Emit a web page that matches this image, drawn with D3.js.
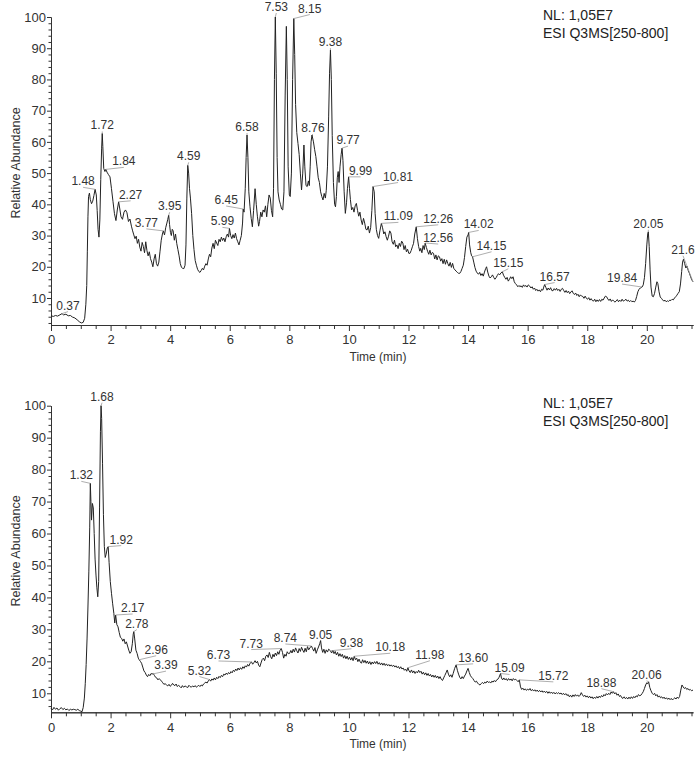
<!DOCTYPE html>
<html>
<head>
<meta charset="utf-8">
<script src="https://cdn.jsdelivr.net/npm/d3@7"></script>
<style>
  body { margin: 0; background: #fff; }
  svg { display: block; font-family: "Liberation Sans", Arial, sans-serif; }
  .axis path, .axis line { stroke: #333; }
  .axis text { fill: #333; font-size: 13px; font-family: "Liberation Sans", Arial, sans-serif; }
</style>
</head>
<body>
<script>
// chromatogram traces: [time (min), relative abundance]
var topTrace = [
  [0.00,4.3],[0.08,4.1],[0.15,4.4],[0.22,4.2],[0.30,4.6],[0.37,5.0],[0.42,4.6],[0.50,4.8],[0.58,4.3],[0.65,4.4],
  [0.72,3.9],[0.80,3.6],[0.88,3.0],[0.95,2.4],[1.02,2.0],[1.08,2.2],[1.13,3.5],[1.17,8.0],[1.20,14.0],[1.22,25.0],
  [1.24,36.0],[1.26,42.5],[1.29,43.6],[1.32,41.5],[1.36,40.2],[1.40,41.0],[1.44,42.8],[1.48,44.8],[1.52,43.0],[1.55,38.0],
  [1.58,32.0],[1.61,29.5],[1.64,35.0],[1.67,48.0],[1.70,58.0],[1.72,62.7],[1.74,58.5],[1.77,51.5],[1.81,50.5],[1.84,51.2],
  [1.88,50.3],[1.93,49.5],[1.98,48.8],[2.03,45.0],[2.08,41.0],[2.13,37.0],[2.18,34.8],[2.23,38.5],[2.27,40.8],[2.31,38.5],
  [2.35,36.0],[2.40,35.2],[2.45,37.5],[2.50,38.2],[2.55,37.3],[2.60,34.5],[2.65,35.3],[2.70,33.0],[2.74,31.5],[2.78,30.2],
  [2.82,29.0],[2.86,29.8],[2.90,27.5],[2.94,28.8],[2.98,26.3],[3.02,25.0],[3.06,27.8],[3.10,26.5],[3.14,24.5],[3.18,28.0],
  [3.22,25.2],[3.26,23.5],[3.30,24.8],[3.34,22.6],[3.38,21.5],[3.42,20.0],[3.46,22.5],[3.50,24.0],[3.54,21.0],[3.58,20.2],
  [3.62,21.5],[3.66,25.0],[3.70,28.5],[3.74,30.5],[3.77,31.5],[3.81,30.2],[3.85,32.5],[3.89,34.0],[3.92,35.2],[3.95,36.5],
  [3.98,33.5],[4.01,31.0],[4.04,30.0],[4.07,32.0],[4.10,31.5],[4.14,28.5],[4.18,30.5],[4.22,27.5],[4.26,25.5],[4.30,23.5],
  [4.34,21.0],[4.38,19.8],[4.42,19.5],[4.46,19.4],[4.50,20.5],[4.53,27.0],[4.56,42.0],[4.59,52.5],[4.62,50.0],[4.65,45.0],
  [4.68,42.0],[4.72,37.0],[4.76,30.0],[4.80,25.5],[4.84,22.0],[4.88,20.5],[4.92,19.2],[4.96,18.5],[5.00,18.2],[5.04,18.8],
  [5.08,19.5],[5.12,19.0],[5.16,20.2],[5.20,21.0],[5.24,20.5],[5.28,22.5],[5.32,24.0],[5.36,23.2],[5.40,26.0],[5.44,27.5],
  [5.48,25.8],[5.52,28.5],[5.56,27.6],[5.60,26.8],[5.64,28.8],[5.68,28.0],[5.72,29.5],[5.76,28.4],[5.80,29.2],[5.84,28.0],
  [5.88,29.6],[5.92,30.5],[5.96,29.5],[5.99,32.3],[6.03,30.0],[6.07,29.0],[6.11,30.3],[6.15,29.2],[6.19,30.8],[6.23,29.0],
  [6.27,28.0],[6.31,27.0],[6.35,28.5],[6.39,30.0],[6.43,34.0],[6.45,38.5],[6.48,37.5],[6.52,45.0],[6.55,55.0],[6.58,62.2],
  [6.61,55.0],[6.64,44.0],[6.68,39.2],[6.72,35.5],[6.76,32.8],[6.80,38.0],[6.85,45.0],[6.89,40.0],[6.93,36.0],[6.97,33.0],
  [7.00,34.5],[7.04,37.5],[7.08,36.0],[7.12,38.2],[7.16,37.5],[7.20,39.5],[7.24,36.0],[7.28,40.0],[7.32,43.0],[7.36,42.0],
  [7.40,38.0],[7.44,36.0],[7.47,45.0],[7.50,80.0],[7.53,100],[7.56,82.0],[7.59,55.0],[7.62,44.0],[7.66,41.4],[7.70,40.0],
  [7.74,38.5],[7.78,38.2],[7.82,44.0],[7.86,75.0],[7.90,97.0],[7.93,80.0],[7.96,52.0],[8.00,43.0],[8.03,42.5],[8.07,50.0],
  [8.11,80.0],[8.15,99.5],[8.18,88.0],[8.21,72.0],[8.25,63.0],[8.29,59.5],[8.33,56.0],[8.37,50.0],[8.41,44.6],[8.45,50.0],
  [8.49,59.0],[8.52,52.0],[8.56,46.0],[8.60,45.7],[8.64,47.5],[8.67,46.0],[8.70,52.0],[8.73,60.0],[8.76,62.2],[8.81,60.0],
  [8.85,57.5],[8.89,55.3],[8.93,52.0],[8.97,48.5],[9.01,47.0],[9.05,44.0],[9.09,42.5],[9.13,41.4],[9.17,43.5],[9.21,42.0],
  [9.24,44.5],[9.28,52.0],[9.32,68.0],[9.35,82.0],[9.38,89.4],[9.41,80.0],[9.44,62.0],[9.48,47.0],[9.52,40.0],[9.55,39.2],
  [9.58,42.5],[9.61,48.5],[9.64,50.5],[9.67,47.0],[9.70,52.0],[9.74,56.0],[9.77,58.0],[9.80,54.0],[9.84,44.0],[9.88,37.1],
  [9.92,40.5],[9.95,45.0],[9.99,48.8],[10.02,45.0],[10.05,41.5],[10.09,38.2],[10.13,39.0],[10.17,37.5],[10.21,39.5],[10.25,40.3],
  [10.29,38.0],[10.33,36.2],[10.37,37.5],[10.41,35.0],[10.45,33.5],[10.49,35.5],[10.53,34.0],[10.57,32.0],[10.61,31.8],[10.65,33.0],
  [10.69,30.8],[10.73,32.5],[10.77,38.0],[10.81,45.7],[10.85,44.0],[10.88,37.0],[10.92,32.0],[10.96,30.0],[11.00,29.1],[11.04,31.5],
  [11.09,33.9],[11.13,32.5],[11.17,30.5],[11.21,31.2],[11.25,29.6],[11.29,28.5],[11.33,29.8],[11.37,31.5],[11.41,30.8],[11.45,28.0],
  [11.49,27.2],[11.53,28.5],[11.57,26.4],[11.61,27.0],[11.65,25.8],[11.69,27.5],[11.73,26.5],[11.77,28.2],[11.81,27.6],[11.85,25.5],
  [11.89,26.8],[11.93,24.8],[11.97,25.6],[12.01,24.3],[12.05,24.3],[12.09,25.2],[12.13,26.4],[12.17,27.5],[12.21,30.5],[12.26,32.8],
  [12.30,29.0],[12.34,26.5],[12.38,25.0],[12.41,25.9],[12.45,24.5],[12.49,26.8],[12.53,25.5],[12.56,27.6],[12.60,26.2],[12.64,25.0],
  [12.68,24.0],[12.72,25.3],[12.76,23.8],[12.80,24.6],[12.84,24.3],[12.88,22.5],[12.92,23.8],[12.96,22.2],[13.00,23.5],[13.04,23.2],
  [13.08,21.8],[13.12,22.6],[13.16,21.0],[13.20,22.4],[13.24,20.8],[13.28,22.2],[13.32,21.0],[13.36,20.2],[13.40,21.4],[13.44,19.8],
  [13.48,21.1],[13.52,19.5],[13.56,19.0],[13.60,18.6],[13.64,18.2],[13.68,17.9],[13.72,17.9],[13.76,18.5],[13.80,19.5],[13.84,20.5],
  [13.88,23.0],[13.92,26.5],[13.96,29.5],[14.00,30.2],[14.02,31.0],[14.05,27.0],[14.09,24.5],[14.12,23.5],[14.15,23.2],[14.19,21.5],
  [14.23,19.8],[14.27,18.6],[14.31,18.0],[14.35,17.6],[14.39,18.2],[14.43,17.2],[14.47,17.8],[14.51,17.0],[14.55,18.3],[14.59,19.4],
  [14.62,20.0],[14.66,18.3],[14.70,17.0],[14.74,16.4],[14.78,16.8],[14.82,17.4],[14.86,16.6],[14.90,16.0],[14.94,16.5],[14.98,17.2],
  [15.02,17.8],[15.06,17.4],[15.10,18.0],[15.15,18.4],[15.19,17.3],[15.23,16.6],[15.27,16.0],[15.31,16.6],[15.35,15.4],[15.39,16.0],
  [15.43,16.8],[15.47,16.2],[15.51,16.8],[15.55,15.2],[15.59,14.6],[15.63,14.2],[15.67,13.6],[15.71,14.0],[15.74,13.6],[15.78,13.9],
  [15.82,13.4],[15.86,14.2],[15.90,13.7],[15.94,14.0],[15.98,13.5],[16.02,14.2],[16.07,13.8],[16.11,13.2],[16.15,13.6],[16.19,12.8],
  [16.23,13.2],[16.27,12.4],[16.31,12.8],[16.35,12.2],[16.39,12.6],[16.43,12.0],[16.47,12.8],[16.51,12.5],[16.54,13.5],[16.57,14.3],
  [16.61,13.4],[16.65,12.5],[16.69,13.2],[16.73,12.6],[16.77,13.3],[16.81,12.4],[16.85,12.3],[16.89,13.0],[16.93,12.5],[16.97,13.1],
  [17.01,12.4],[17.05,12.8],[17.09,12.1],[17.13,12.8],[17.17,13.1],[17.21,12.4],[17.25,11.8],[17.29,12.4],[17.33,11.7],[17.37,12.2],
  [17.41,11.4],[17.45,11.9],[17.49,12.3],[17.53,11.5],[17.57,11.1],[17.61,11.6],[17.65,10.8],[17.69,11.2],[17.73,10.4],[17.77,11.0],
  [17.81,10.6],[17.85,10.5],[17.89,9.9],[17.93,10.6],[17.97,9.9],[18.01,9.6],[18.05,10.1],[18.09,9.3],[18.13,9.8],[18.17,9.2],
  [18.21,9.0],[18.25,9.6],[18.29,8.8],[18.33,9.4],[18.37,8.9],[18.41,9.5],[18.45,8.9],[18.49,9.6],[18.53,9.3],[18.57,10.0],
  [18.61,10.6],[18.65,10.4],[18.69,9.7],[18.73,9.2],[18.77,9.7],[18.81,8.9],[18.85,9.4],[18.89,9.0],[18.93,8.7],[18.97,9.0],
  [19.01,9.5],[19.05,8.8],[19.09,9.3],[19.13,8.9],[19.17,9.6],[19.21,9.0],[19.25,9.2],[19.30,9.6],[19.34,9.0],[19.38,9.3],
  [19.42,8.8],[19.46,9.2],[19.50,8.8],[19.54,9.0],[19.58,8.7],[19.62,9.2],[19.66,10.5],[19.70,12.0],[19.74,12.8],[19.78,13.2],
  [19.84,13.5],[19.88,14.2],[19.92,16.5],[19.96,21.0],[20.00,27.0],[20.03,30.5],[20.05,31.2],[20.08,26.5],[20.11,19.0],[20.14,13.5],
  [20.18,10.6],[20.22,10.4],[20.26,11.5],[20.30,13.5],[20.34,15.2],[20.37,14.6],[20.41,12.0],[20.45,10.3],[20.49,9.9],[20.53,9.4],
  [20.57,9.0],[20.61,9.3],[20.65,8.8],[20.69,9.1],[20.73,8.9],[20.77,9.3],[20.81,9.2],[20.85,9.6],[20.89,9.4],[20.93,10.0],
  [20.97,10.4],[21.01,10.9],[21.05,11.5],[21.09,12.0],[21.13,14.5],[21.17,18.5],[21.20,21.5],[21.23,22.4],[21.27,21.0],[21.31,19.6],
  [21.35,20.2],[21.39,18.8],[21.43,17.9],[21.47,16.8],[21.51,15.8],[21.55,15.2]
];

var bottomTrace = [
  [0.00,5.3],[0.05,4.8],[0.10,5.6],[0.15,5.0],[0.20,5.4],[0.25,4.7],[0.30,5.2],[0.35,5.5],[0.40,4.9],[0.45,5.3],
  [0.50,4.8],[0.55,5.1],[0.60,4.6],[0.65,5.0],[0.70,4.8],[0.75,5.0],[0.80,4.9],[0.85,4.7],[0.90,5.0],[0.95,4.6],
  [1.00,4.4],[1.04,4.2],[1.08,5.5],[1.12,8.5],[1.15,13.0],[1.18,19.0],[1.21,27.0],[1.24,37.0],[1.27,48.0],[1.30,62.0],
  [1.32,75.7],[1.34,70.0],[1.36,64.2],[1.39,69.4],[1.42,68.0],[1.45,60.0],[1.48,52.0],[1.51,47.0],[1.54,43.0],[1.57,40.2],
  [1.60,45.0],[1.63,68.0],[1.66,92.0],[1.68,100],[1.70,96.0],[1.73,82.0],[1.76,66.0],[1.79,56.0],[1.82,52.5],[1.85,53.5],
  [1.89,55.5],[1.92,55.9],[1.95,51.0],[1.99,45.0],[2.03,41.3],[2.07,38.0],[2.11,35.0],[2.14,32.0],[2.17,34.5],[2.21,31.5],
  [2.25,30.8],[2.29,29.0],[2.33,27.5],[2.37,27.2],[2.41,26.3],[2.45,27.0],[2.49,25.5],[2.53,26.1],[2.57,24.8],[2.61,23.5],
  [2.65,22.5],[2.69,23.0],[2.73,25.5],[2.76,28.5],[2.78,29.3],[2.81,27.0],[2.85,23.5],[2.89,22.5],[2.93,21.0],[2.96,20.5],
  [3.00,20.0],[3.04,19.4],[3.08,18.2],[3.12,17.0],[3.16,16.5],[3.20,15.7],[3.24,15.2],[3.28,15.9],[3.32,15.5],[3.36,16.2],
  [3.39,16.0],[3.43,16.2],[3.47,15.6],[3.51,15.0],[3.55,14.8],[3.59,14.2],[3.63,14.6],[3.67,14.2],[3.71,13.8],[3.75,13.3],
  [3.79,12.8],[3.83,13.0],[3.88,12.6],[3.92,12.3],[3.96,12.8],[4.00,12.2],[4.04,12.5],[4.08,13.1],[4.12,12.6],[4.16,12.4],
  [4.20,12.9],[4.24,12.1],[4.28,12.5],[4.33,12.1],[4.37,11.7],[4.41,12.4],[4.45,11.9],[4.50,12.3],[4.55,12.0],[4.59,11.8],
  [4.63,12.5],[4.67,12.1],[4.71,11.9],[4.75,12.3],[4.80,12.0],[4.84,12.4],[4.88,11.9],[4.92,12.2],[4.96,12.5],[5.00,12.1],
  [5.04,12.6],[5.08,12.3],[5.12,12.9],[5.16,13.2],[5.20,13.5],[5.24,13.2],[5.28,13.9],[5.32,14.3],[5.36,13.8],[5.40,14.5],
  [5.44,14.1],[5.48,14.8],[5.52,14.2],[5.56,15.0],[5.60,14.6],[5.64,15.3],[5.68,14.9],[5.72,15.6],[5.76,15.2],[5.80,16.0],
  [5.84,15.7],[5.88,16.3],[5.92,15.9],[5.96,16.5],[6.00,16.1],[6.04,16.8],[6.08,16.4],[6.12,17.2],[6.16,16.8],[6.20,17.6],
  [6.24,17.1],[6.28,17.9],[6.32,17.3],[6.36,18.0],[6.40,17.5],[6.44,18.3],[6.48,17.8],[6.52,18.6],[6.56,18.2],[6.60,19.0],
  [6.64,18.5],[6.68,19.4],[6.73,19.8],[6.77,19.1],[6.81,19.6],[6.85,20.2],[6.89,19.5],[6.93,20.0],[6.97,18.8],[7.01,18.3],
  [7.05,19.5],[7.09,20.6],[7.13,21.0],[7.17,20.2],[7.21,21.6],[7.25,22.0],[7.29,21.2],[7.33,22.8],[7.37,21.5],[7.41,20.8],
  [7.45,22.2],[7.49,21.4],[7.53,22.6],[7.57,21.8],[7.61,23.0],[7.65,22.2],[7.69,23.5],[7.73,24.0],[7.77,22.8],[7.81,21.0],
  [7.85,22.2],[7.89,21.6],[7.93,23.0],[7.97,22.4],[8.01,22.5],[8.05,23.4],[8.09,22.6],[8.13,23.8],[8.17,22.9],[8.21,24.2],
  [8.25,23.3],[8.29,22.6],[8.33,24.0],[8.37,23.1],[8.41,24.4],[8.45,23.5],[8.49,22.8],[8.53,24.1],[8.57,23.0],[8.61,24.6],
  [8.65,23.6],[8.69,24.2],[8.74,24.8],[8.78,24.0],[8.82,23.2],[8.86,24.3],[8.90,22.5],[8.94,23.6],[8.98,24.5],[9.02,25.5],
  [9.05,26.5],[9.08,24.2],[9.12,22.8],[9.16,23.8],[9.20,22.5],[9.24,23.6],[9.28,22.9],[9.32,23.8],[9.38,23.3],[9.42,22.6],
  [9.46,23.5],[9.50,22.4],[9.54,23.1],[9.58,22.0],[9.62,22.8],[9.66,21.6],[9.70,22.4],[9.74,21.5],[9.78,22.2],[9.82,21.0],
  [9.86,21.8],[9.90,20.8],[9.94,21.6],[9.98,20.6],[10.02,21.3],[10.06,20.4],[10.10,21.2],[10.14,20.2],[10.18,21.6],[10.22,20.5],
  [10.26,21.0],[10.30,19.9],[10.34,20.7],[10.38,19.8],[10.42,19.4],[10.46,20.5],[10.50,19.6],[10.54,20.3],[10.58,19.4],[10.62,20.1],
  [10.66,19.2],[10.70,19.9],[10.74,19.0],[10.78,19.8],[10.82,19.2],[10.86,19.9],[10.90,19.3],[10.94,20.0],[10.98,19.1],[11.02,19.6],
  [11.06,18.9],[11.10,19.5],[11.14,18.8],[11.18,19.4],[11.22,18.7],[11.26,19.2],[11.30,18.6],[11.34,19.0],[11.38,18.5],[11.42,18.9],
  [11.46,18.4],[11.50,18.8],[11.54,18.2],[11.58,18.6],[11.62,18.0],[11.66,18.4],[11.70,17.7],[11.74,18.3],[11.78,17.6],[11.82,17.9],
  [11.86,17.2],[11.90,17.6],[11.94,16.9],[11.98,18.0],[12.02,17.0],[12.06,16.5],[12.10,17.3],[12.14,16.4],[12.18,17.0],[12.22,16.2],
  [12.26,16.8],[12.30,16.4],[12.34,17.2],[12.38,16.5],[12.42,16.9],[12.46,16.0],[12.50,16.6],[12.54,15.8],[12.58,16.4],[12.62,15.6],
  [12.66,16.2],[12.70,15.4],[12.74,15.9],[12.78,15.1],[12.82,15.7],[12.86,15.0],[12.90,15.6],[12.94,14.8],[12.98,15.4],[13.02,14.6],
  [13.06,15.2],[13.10,14.4],[13.14,14.0],[13.18,14.8],[13.22,15.6],[13.26,16.4],[13.30,17.3],[13.34,16.0],[13.38,15.2],[13.42,15.8],
  [13.46,15.0],[13.50,16.2],[13.55,17.8],[13.60,18.9],[13.64,17.2],[13.68,16.0],[13.72,15.0],[13.76,14.5],[13.80,15.2],[13.84,14.6],
  [13.88,15.4],[13.92,16.0],[13.96,17.0],[14.00,17.8],[14.04,16.5],[14.08,15.5],[14.12,15.0],[14.16,14.6],[14.20,14.0],[14.24,13.5],
  [14.28,13.8],[14.32,13.2],[14.36,12.8],[14.40,12.6],[14.44,13.0],[14.48,13.4],[14.52,13.0],[14.56,13.5],[14.60,13.2],[14.64,13.8],
  [14.68,13.4],[14.72,13.6],[14.76,13.2],[14.80,13.8],[14.84,13.5],[14.88,14.0],[14.92,13.6],[14.96,14.2],[15.00,14.4],[15.04,15.0],
  [15.09,16.2],[15.12,14.8],[15.16,14.2],[15.20,14.8],[15.24,14.2],[15.28,14.6],[15.32,14.0],[15.36,14.6],[15.40,14.1],[15.44,14.5],
  [15.48,13.9],[15.52,14.6],[15.56,14.2],[15.60,14.4],[15.64,14.0],[15.68,13.6],[15.72,14.2],[15.76,12.0],[15.80,11.2],[15.84,11.6],
  [15.88,11.0],[15.92,11.4],[15.96,10.9],[16.00,11.3],[16.04,11.0],[16.08,11.5],[16.12,10.8],[16.16,11.2],[16.20,10.7],[16.24,11.1],
  [16.28,10.6],[16.32,11.0],[16.36,10.5],[16.40,10.9],[16.44,10.4],[16.48,10.8],[16.52,10.3],[16.56,10.7],[16.60,10.2],[16.64,10.6],
  [16.68,10.0],[16.72,10.5],[16.76,10.0],[16.80,10.4],[16.84,9.9],[16.88,10.3],[16.92,9.8],[16.96,10.2],[17.00,9.9],[17.04,10.2],
  [17.08,9.8],[17.12,10.1],[17.16,9.6],[17.20,10.0],[17.24,9.5],[17.28,9.9],[17.32,9.3],[17.36,9.6],[17.40,8.9],[17.44,9.4],
  [17.48,8.8],[17.52,9.5],[17.56,9.0],[17.60,9.6],[17.64,9.1],[17.68,9.5],[17.72,9.0],[17.76,9.4],[17.80,10.2],[17.84,9.5],
  [17.88,9.0],[17.92,9.4],[17.96,8.8],[18.00,9.2],[18.04,8.6],[18.08,9.1],[18.12,8.5],[18.16,8.9],[18.20,8.3],[18.24,8.8],
  [18.28,8.4],[18.32,9.0],[18.36,8.5],[18.40,9.1],[18.44,8.7],[18.48,9.3],[18.52,8.9],[18.56,9.6],[18.60,9.2],[18.64,9.9],
  [18.68,9.5],[18.72,10.0],[18.76,9.6],[18.80,10.4],[18.84,10.0],[18.88,10.5],[18.92,9.8],[18.96,10.2],[19.00,9.4],[19.04,9.8],
  [19.08,9.0],[19.12,9.3],[19.16,8.6],[19.20,8.4],[19.24,8.9],[19.28,8.3],[19.32,8.7],[19.36,8.2],[19.40,8.8],[19.44,8.3],
  [19.48,8.9],[19.52,8.4],[19.56,9.0],[19.60,8.6],[19.64,9.2],[19.68,8.9],[19.72,9.6],[19.76,9.2],[19.80,9.4],[19.84,9.9],
  [19.88,10.5],[19.92,11.5],[19.96,12.6],[20.00,13.3],[20.03,13.0],[20.06,13.6],[20.10,11.8],[20.14,10.8],[20.18,10.0],[20.22,9.6],
  [20.26,10.0],[20.30,9.2],[20.34,9.6],[20.38,8.8],[20.42,9.2],[20.46,8.6],[20.50,8.9],[20.54,8.4],[20.58,8.8],[20.62,8.2],
  [20.66,8.6],[20.70,8.1],[20.74,8.5],[20.78,8.0],[20.82,8.4],[20.86,7.9],[20.90,8.3],[20.94,8.6],[20.98,8.2],[21.02,8.8],
  [21.06,8.4],[21.10,9.0],[21.14,11.0],[21.18,12.6],[21.22,12.0],[21.26,11.5],[21.30,11.8],[21.34,11.2],[21.38,11.5],[21.42,11.0],
  [21.46,11.2],[21.50,10.8],[21.55,11.0]
];

// peak labels (retention times)
var topPeaks = ["0.37","1.48","1.72","1.84","2.27","3.77","3.95","4.59","5.99","6.45","6.58","7.53","8.15","8.76",
  "9.38","9.77","9.99","10.81","11.09","12.26","12.56","14.02","14.15","15.15","16.57","19.84","20.05","21.6"];
var bottomPeaks = ["1.32","1.68","1.92","2.17","2.78","2.96","3.39","5.32","6.73","7.73","8.74","9.05","9.38","10.18",
  "11.98","13.60","15.09","15.72","18.88","20.06"];

// where each label text sits, relative to its peak (px)
var topLabelShift = [[6,-8],[-12,-8],[0,-8],[18,-8],[12,-7],[-17,-8],[1,-9],[1,-9],[-7,-7],[-17,-9],[0,-8],[1,-10],[16,-10],[1,-7],
  [0,-8],[6,-8],[12,-6],[25,-10],[17,-7],[22,-8],[13,-5],[10,-8],[19,-11],[6,-9],[10,-8],[-20,-9],[0,-8],[-10,-32]];
var bottomLabelShift = [[-9,-8],[1,-9],[13,-7],[17,-7],[3,-8],[17,-10],[14,-9],[-10,-9],[-33,-7],[-30,-5],[-26,-8],[0,-6],[21,-8],[36,-9],
  [22,-13],[17,-7],[9,-5],[34,-4],[-12,-9],[-2,-7]];

var timeTicks = [0,2,4,6,8,10,12,14,16,18,20];
var abundanceTicks = [10,20,30,40,50,60,70,80,90,100];
var scanInfo = ["NL: 1,05E7", "ESI Q3MS[250-800]"];

var W = 695, H = 757;
var svg = d3.select("body").append("svg").attr("width", W).attr("height", H);
svg.append("rect").attr("width", W).attr("height", H).attr("fill", "#fff");

function drawPanel(trace, peaks, shifts, box) {
  var g = svg.append("g");

  var x = d3.scaleLinear().domain([0, 21.55]).range([box.left, box.right]);
  var y = d3.scaleLinear().domain([box.yMin, 100]).range([box.bottom, box.top]);

  // minor ticks first, then major axes on top
  var xMinor = d3.range(0, 21.55, 0.5).filter(function(v) { return v % 2 !== 0; });
  var yMinor = d3.range(2, 100, 2).filter(function(v) { return v % 10 !== 0 && v >= box.yMin; });

  g.append("g").attr("class", "axis")
    .attr("transform", "translate(0," + box.bottom + ")")
    .call(d3.axisBottom(x).tickValues(xMinor).tickSize(4).tickSizeOuter(0).tickFormat(""));
  g.append("g").attr("class", "axis")
    .attr("transform", "translate(0," + box.bottom + ")")
    .call(d3.axisBottom(x).tickValues(timeTicks).tickSize(6).tickSizeOuter(0).tickPadding(4).tickFormat(d3.format("d")));

  g.append("g").attr("class", "axis")
    .attr("transform", "translate(" + box.left + ",0)")
    .call(d3.axisLeft(y).tickValues(yMinor).tickSize(2.5).tickSizeOuter(0).tickFormat(""));
  g.append("g").attr("class", "axis")
    .attr("transform", "translate(" + box.left + ",0)")
    .call(d3.axisLeft(y).tickValues(abundanceTicks).tickSize(4).tickSizeOuter(0).tickPadding(1).tickFormat(d3.format("d")));

  // axis titles
  g.append("text")
    .attr("x", (box.left + box.right) / 2 + 6).attr("y", box.bottom + 36)
    .attr("text-anchor", "middle").attr("fill", "#333").style("font-size", "12px")
    .text("Time (min)");
  g.append("text")
    .attr("transform", "translate(20," + ((box.top + box.bottom) / 2 - 8) + ") rotate(-90)")
    .attr("text-anchor", "middle").attr("fill", "#333").style("font-size", "12.5px")
    .text("Relative Abundance");

  // the trace
  var line = d3.line().x(function(d) { return x(d[0]); }).y(function(d) { return y(d[1]); });
  g.append("path").datum(trace)
    .attr("d", line)
    .attr("fill", "none").attr("stroke", "#222").attr("stroke-width", 1).attr("stroke-linejoin", "round");

  // peak labels with leader lines
  peaks.forEach(function(lbl, i) {
    var t = parseFloat(lbl);
    var p = trace.reduce(function(a, b) { return Math.abs(b[0] - t) < Math.abs(a[0] - t) ? b : a; });
    var px = x(p[0]), py = y(p[1]);
    var cx = px + shifts[i][0], cy = py + shifts[i][1];
    g.append("line")
      .attr("x1", px).attr("y1", py).attr("x2", cx).attr("y2", cy + 6)
      .attr("stroke", "#999").attr("stroke-width", 0.8);
    g.append("text")
      .attr("x", cx).attr("y", cy + 4)
      .attr("text-anchor", "middle").attr("fill", "#333").style("font-size", "12px")
      .text(lbl);
  });

  // scan info
  g.selectAll("text.info").data(scanInfo).enter().append("text")
    .attr("class", "info")
    .attr("x", box.right - 150).attr("y", function(d, i) { return box.infoY + i * 18; })
    .attr("fill", "#222").style("font-size", "14px")
    .text(function(d) { return d; });
}

drawPanel(topTrace, topPeaks, topLabelShift, {left: 51, right: 693, top: 17, bottom: 325, yMin: 1.35, infoY: 20});
drawPanel(bottomTrace, bottomPeaks, bottomLabelShift, {left: 51, right: 693, top: 405.7, bottom: 712.3, yMin: 4.05, infoY: 408});
</script>
</body>
</html>
